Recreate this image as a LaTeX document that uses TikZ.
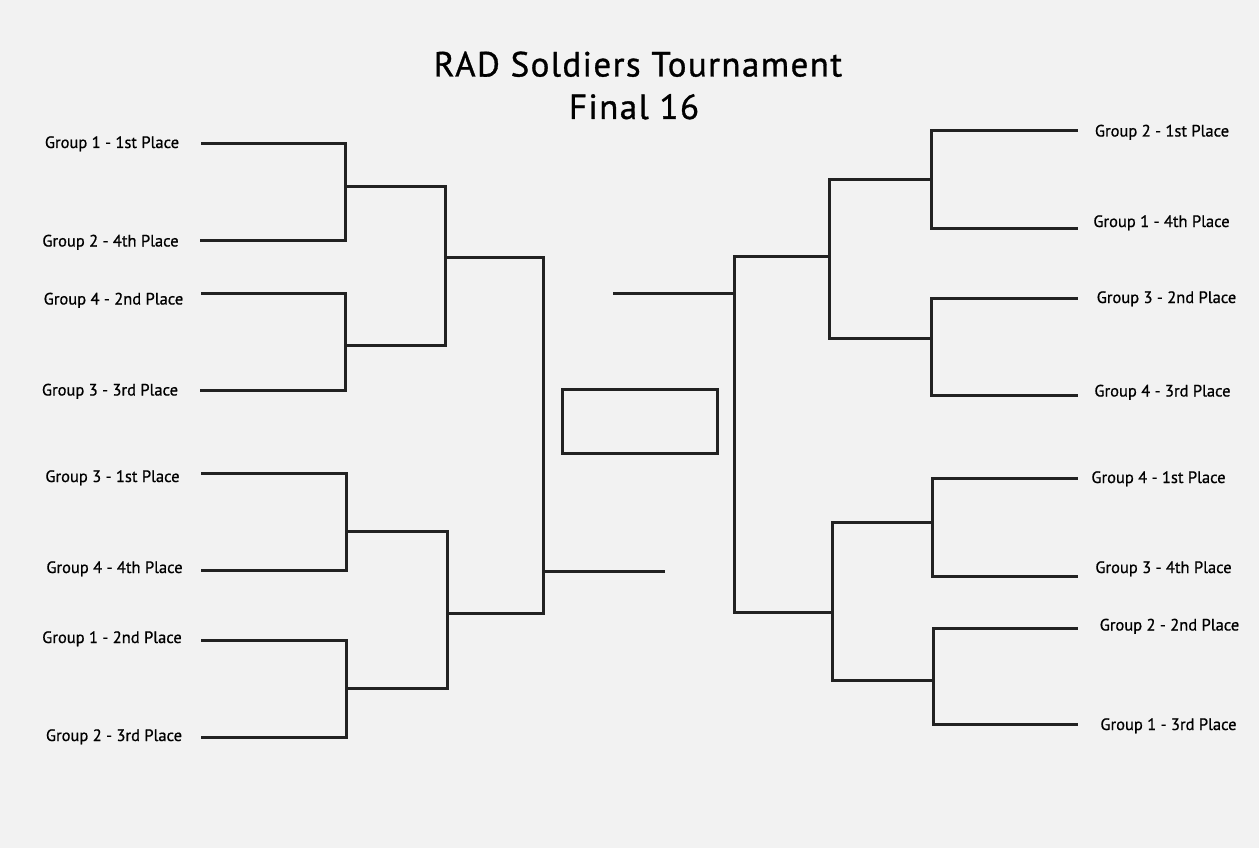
\documentclass[tikz,border=0pt]{standalone}
\usepackage{fontspec}
\setmainfont{PT Sans}
\newfontfamily\teamfont{PT Sans}[FakeBold=0.8]
\newfontfamily\headfont{PT Sans}[FakeBold=0.9,LetterSpace=4]
\definecolor{paper}{RGB}{242,242,242}
\definecolor{ink}{RGB}{34,34,34}
\begin{document}
\begin{tikzpicture}[x=1pt,y=-1pt,
  wire/.style={draw=ink,line width=3pt,line join=miter,line cap=rect},
  team/.style={anchor=base,inner sep=0pt,font=\teamfont\fontsize{16.5}{19}\selectfont,text=black},
  titletext/.style={anchor=base,inner sep=0pt,font=\headfont\fontsize{35}{40}\selectfont,text=black}]
\fill[paper] (0,0) rectangle (1259,848);
\useasboundingbox (0,0) rectangle (1259,848);
% title
\node[titletext] (t1) at (638,76.5) {RAD Soldiers Tournament};
\node[titletext] (t2) at (634,119) {Final 16};
% ---------- left labels ----------
\node[team] (l1) at (112,148) {Group 1 - 1st Place};
\node[team] (l2) at (110.5,246.5) {Group 2 - 4th Place};
\node[team] (l3) at (113.5,304.5) {Group 4 - 2nd Place};
\node[team] (l4) at (110,395.5) {Group 3 - 3rd Place};
\node[team] (l5) at (112.5,482) {Group 3 - 1st Place};
\node[team] (l6) at (114.5,573) {Group 4 - 4th Place};
\node[team] (l7) at (112,643) {Group 1 - 2nd Place};
\node[team] (l8) at (114,741) {Group 2 - 3rd Place};
% ---------- right labels ----------
\node[team] (r1) at (1162,136.5) {Group 2 - 1st Place};
\node[team] (r2) at (1161.5,227) {Group 1 - 4th Place};
\node[team] (r3) at (1166.5,303) {Group 3 - 2nd Place};
\node[team] (r4) at (1162.5,396.5) {Group 4 - 3rd Place};
\node[team] (r5) at (1158.5,483) {Group 4 - 1st Place};
\node[team] (r6) at (1163.5,573) {Group 3 - 4th Place};
\node[team] (r7) at (1169.5,630.5) {Group 2 - 2nd Place};
\node[team] (r8) at (1168.5,730) {Group 1 - 3rd Place};
% ---------- left coordinates ----------
\coordinate (la1) at (202,144); \coordinate (la1j) at (345,144);
\coordinate (la2) at (201,240); \coordinate (la2j) at (345,240);
\coordinate (la3) at (202,293); \coordinate (la3j) at (345,293);
\coordinate (la4) at (201,390); \coordinate (la4j) at (345,390);
\coordinate (la5) at (202,473); \coordinate (la5j) at (346,473);
\coordinate (la6) at (202,570); \coordinate (la6j) at (346,570);
\coordinate (la7) at (202,640); \coordinate (la7j) at (346,640);
\coordinate (la8) at (202,737); \coordinate (la8j) at (346,737);
\coordinate (lb1) at (345,187); \coordinate (lb1j) at (445,187);
\coordinate (lb2) at (345,345); \coordinate (lb2j) at (445,345);
\coordinate (lb3) at (346,531); \coordinate (lb3j) at (447,531);
\coordinate (lb4) at (346,688); \coordinate (lb4j) at (447,688);
\coordinate (lc1) at (445,257); \coordinate (lc1j) at (543,257);
\coordinate (lc2) at (447,613); \coordinate (lc2j) at (543,613);
\coordinate (ld) at (543,571); \coordinate (ldend) at (663,571);
% ---------- right coordinates ----------
\coordinate (ra1) at (1076,131); \coordinate (ra1j) at (931,131);
\coordinate (ra2) at (1076,228); \coordinate (ra2j) at (931,228);
\coordinate (ra3) at (1076,298); \coordinate (ra3j) at (931,298);
\coordinate (ra4) at (1076,395); \coordinate (ra4j) at (931,395);
\coordinate (ra5) at (1076,478); \coordinate (ra5j) at (932,478);
\coordinate (ra6) at (1076,576); \coordinate (ra6j) at (932,576);
\coordinate (ra7) at (1076,628); \coordinate (ra7j) at (933,628);
\coordinate (ra8) at (1076,724); \coordinate (ra8j) at (933,724);
\coordinate (rb1) at (931,180); \coordinate (rb1j) at (829,180);
\coordinate (rb2) at (931,338); \coordinate (rb2j) at (829,338);
\coordinate (rb3) at (932,522); \coordinate (rb3j) at (832,522);
\coordinate (rb4) at (933,680); \coordinate (rb4j) at (832,680);
\coordinate (rc1) at (829,256); \coordinate (rc1j) at (734,256);
\coordinate (rc2) at (832,612); \coordinate (rc2j) at (734,612);
\coordinate (rd) at (734,293); \coordinate (rdend) at (614,293);
% ---------- left bracket ----------
\draw[wire] (la1) -- (la1j) -- (la2j) -- (la2);
\draw[wire] (la3) -- (la3j) -- (la4j) -- (la4);
\draw[wire] (la5) -- (la5j) -- (la6j) -- (la6);
\draw[wire] (la7) -- (la7j) -- (la8j) -- (la8);
\draw[wire] (lb1) -- (lb1j) -- (lb2j) -- (lb2);
\draw[wire] (lb3) -- (lb3j) -- (lb4j) -- (lb4);
\draw[wire] (lc1) -- (lc1j) -- (lc2j) -- (lc2);
\draw[wire] (ld) -- (ldend);
% ---------- right bracket ----------
\draw[wire] (ra1) -- (ra1j) -- (ra2j) -- (ra2);
\draw[wire] (ra3) -- (ra3j) -- (ra4j) -- (ra4);
\draw[wire] (ra5) -- (ra5j) -- (ra6j) -- (ra6);
\draw[wire] (ra7) -- (ra7j) -- (ra8j) -- (ra8);
\draw[wire] (rb1) -- (rb1j) -- (rb2j) -- (rb2);
\draw[wire] (rb3) -- (rb3j) -- (rb4j) -- (rb4);
\draw[wire] (rc1) -- (rc1j) -- (rc2j) -- (rc2);
\draw[wire] (rd) -- (rdend);
% ---------- champion box ----------
\node[draw=ink,line width=3pt,minimum width=155pt,minimum height=64pt,inner sep=0pt] (champ) at (639.5,421) {};
\end{tikzpicture}
\end{document}
